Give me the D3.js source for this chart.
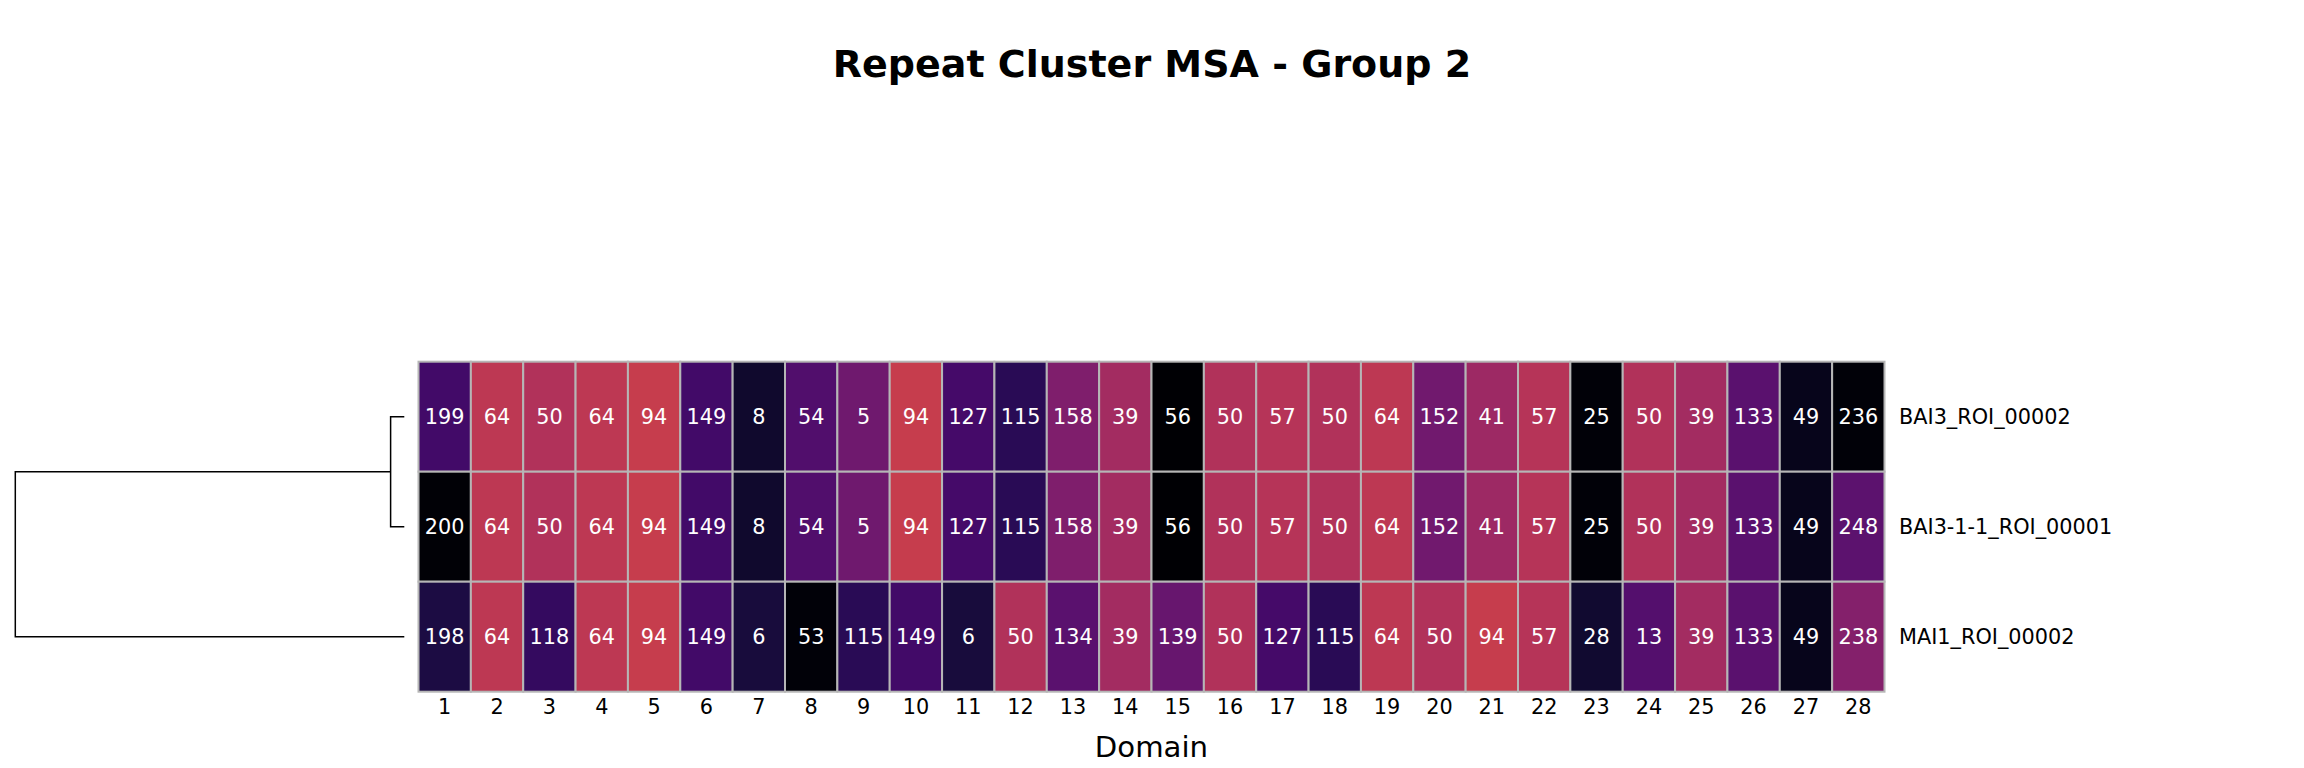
<!DOCTYPE html>
<html>
<head>
<meta charset="utf-8">
<script src="https://cdn.jsdelivr.net/npm/d3@7"></script>
<style>
  html, body { margin: 0; padding: 0; background: #fff; }
  svg { display: block; font-family: "DejaVu Sans", sans-serif; }
</style>
</head>
<body>
<svg id="chart" width="2304" height="768"></svg>
<script>
// ---------- data ----------
const title = "Repeat Cluster MSA - Group 2";
const xLabel = "Domain";
const domains = d3.range(1, 29).map(String);
const sequences = ["BAI3_ROI_00002", "BAI3-1-1_ROI_00001", "MAI1_ROI_00002"];

const rowBAI3_00002 = [199, 64, 50, 64, 94, 149, 8, 54, 5, 94, 127, 115, 158, 39, 56, 50, 57, 50, 64, 152, 41, 57, 25, 50, 39, 133, 49, 236];
const rowBAI3_1_1_00001 = [200, 64, 50, 64, 94, 149, 8, 54, 5, 94, 127, 115, 158, 39, 56, 50, 57, 50, 64, 152, 41, 57, 25, 50, 39, 133, 49, 248];
const rowMAI1_00002 = [198, 64, 118, 64, 94, 149, 6, 53, 115, 149, 6, 50, 134, 39, 139, 50, 127, 115, 64, 50, 94, 57, 28, 13, 39, 133, 49, 238];
const rows = [rowBAI3_00002, rowBAI3_1_1_00001, rowMAI1_00002];

// cluster id -> position on the inferno colour map
const clusterIds =    [56,  200,  25,    236,   53,    49,   8,    28,    6,     198,   115,   118,  149, 199, 127,  13,    54,    133,  248,   134,  139,  5,    152,   158,  238,  41,    39,   50,    57,    64,    94];
const clusterShades = [0.0, 0.01, 0.012, 0.015, 0.015, 0.05, 0.08, 0.085, 0.105, 0.115, 0.145, 0.17, 0.2, 0.2, 0.21, 0.245, 0.235, 0.26, 0.265, 0.26, 0.29, 0.31, 0.315, 0.35, 0.36, 0.425, 0.44, 0.475, 0.485, 0.505, 0.53];

// dendrogram: rows 0 & 1 merge first, then with row 2 (linkage heights)
const linkHeights = [9.3, 264.3];

// ---------- layout ----------
const svg = d3.select("#chart");
const hm = { x0: 418.5, x1: 1884.5, y0: 361.7, y1: 691.7 };

const x = d3.scaleBand().domain(domains).range([hm.x0, hm.x1]).padding(0);
const y = d3.scaleBand().domain(sequences).range([hm.y0, hm.y1]).padding(0);
const color = d3.scaleOrdinal()
  .domain(clusterIds)
  .range(clusterShades.map(t => d3.interpolateInferno(t)));

const cells = [];
rows.forEach((r, i) => r.forEach((v, j) => cells.push({ seq: sequences[i], dom: domains[j], v })));

const g = svg.append("g");
g.selectAll("rect.cell").data(cells).join("rect")
  .attr("class", "cell")
  .attr("x", d => x(d.dom))
  .attr("y", d => y(d.seq))
  .attr("width", x.bandwidth())
  .attr("height", y.bandwidth())
  .attr("fill", d => color(d.v))
  .attr("stroke", "#b6b6b6")
  .attr("stroke-width", 2);

g.selectAll("text.val").data(cells).join("text")
  .attr("class", "val")
  .attr("x", d => x(d.dom) + x.bandwidth() / 2)
  .attr("y", d => y(d.seq) + y.bandwidth() / 2)
  .attr("dy", "0.36em")
  .attr("text-anchor", "middle")
  .attr("fill", "#fff")
  .style("font-size", "20.8px")
  .text(d => d.v);

// x axis
const xAxis = svg.append("g")
  .attr("transform", `translate(0,${hm.y1})`)
  .call(d3.axisBottom(x).tickSize(0).tickPadding(7.5));
xAxis.select(".domain").remove();
xAxis.selectAll("text").style("font-size", "20.8px").style("font-family", "DejaVu Sans").attr("fill", "#000");

// y axis (right)
const yAxis = svg.append("g")
  .attr("transform", `translate(${hm.x1},0)`)
  .call(d3.axisRight(y).tickSize(0).tickPadding(14.5));
yAxis.select(".domain").remove();
yAxis.selectAll("text").style("font-size", "20.8px").style("font-family", "DejaVu Sans").attr("fill", "#000").attr("dy", "0.36em");

// axis label
svg.append("text")
  .attr("x", (hm.x0 + hm.x1) / 2)
  .attr("y", 756.7)
  .attr("text-anchor", "middle")
  .style("font-size", "29.2px")
  .text(xLabel);

// title
svg.append("text")
  .attr("x", 1152)
  .attr("y", 76.7)
  .attr("text-anchor", "middle")
  .style("font-size", "38px")
  .style("font-weight", "bold")
  .text(title);

// dendrogram
const dx = d3.scaleLinear().domain([0, linkHeights[1]]).range([404.3, 15.3]);
const leafY = s => y(s) + y.bandwidth() / 2;
const y0 = leafY(sequences[0]), y1 = leafY(sequences[1]), y2 = leafY(sequences[2]);
const yMid01 = (y0 + y1) / 2;
const dendro = [
  [[dx(0), y0], [dx(linkHeights[0]), y0], [dx(linkHeights[0]), y1], [dx(0), y1]],
  [[dx(linkHeights[0]), yMid01], [dx(linkHeights[1]), yMid01], [dx(linkHeights[1]), y2], [dx(0), y2]]
];
svg.append("g").selectAll("path").data(dendro).join("path")
  .attr("d", d3.line())
  .attr("fill", "none")
  .attr("stroke", "#000")
  .attr("stroke-width", 1.5);
</script>
</body>
</html>
